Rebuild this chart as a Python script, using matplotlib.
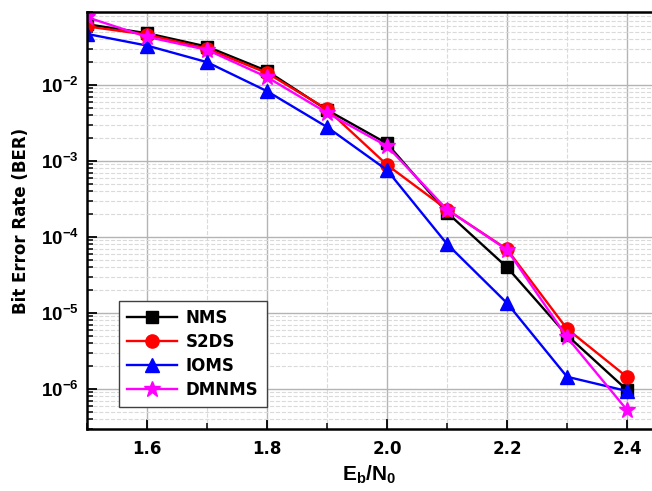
import matplotlib
matplotlib.use("Agg")
import matplotlib.pyplot as plt
from matplotlib.ticker import FuncFormatter, MultipleLocator
import numpy as np

# Eb/N0 points and BER per decoder
ebn0 = [1.5, 1.6, 1.7, 1.8, 1.9, 2.0, 2.1, 2.2, 2.3, 2.4]
ber_nms = [6.3e-2, 4.8e-2, 3.2e-2, 1.53e-2, 4.7e-3, 1.7e-3, 2.1e-4, 4.0e-5, 5.1e-6, 9.7e-7]
ber_s2ds = [5.9e-2, 4.6e-2, 3.0e-2, 1.44e-2, 4.8e-3, 8.9e-4, 2.3e-4, 6.9e-5, 6.2e-6, 1.44e-6]
ber_ioms = [4.7e-2, 3.3e-2, 2.0e-2, 8.3e-3, 2.8e-3, 7.6e-4, 8.1e-5, 1.35e-5, 1.45e-6, 9.4e-7]
ber_dmnms = [7.8e-2, 4.3e-2, 2.9e-2, 1.27e-2, 4.3e-3, 1.57e-3, 2.3e-4, 6.8e-5, 4.8e-6, 5.3e-7]

plt.rcParams['font.family'] = ['DejaVu Sans']
plt.rcParams['font.weight'] = 'bold'
plt.rcParams['mathtext.fontset'] = 'custom'
plt.rcParams['mathtext.rm'] = 'Liberation Sans:bold'
plt.rcParams['mathtext.bf'] = 'Liberation Sans:bold'
plt.rcParams['mathtext.it'] = 'Liberation Sans:bold'

fig = plt.figure(figsize=(6.52, 4.91), dpi=100)
ax = fig.add_axes([87 / 652, 1 - 429 / 491, 565 / 652, 417 / 491])

ax.plot(ebn0, ber_nms, color='black', marker='s', markersize=8.5, lw=1.7, label='NMS')
ax.plot(ebn0, ber_s2ds, color='red', marker='o', markersize=9.5, lw=1.7, label='S2DS')
ax.plot(ebn0, ber_ioms, color='blue', marker='^', markersize=9.5, lw=1.7, label='IOMS')
ax.plot(ebn0, ber_dmnms, color='magenta', marker='*', markersize=12, lw=1.7, label='DMNMS')

ax.set_yscale('log')
ax.set_xlim(1.5, 2.4417)
ax.set_ylim(10 ** (-6 - 40 / 76), 10 ** (-2 + 73 / 76))
ax.xaxis.set_major_locator(MultipleLocator(0.2))
ax.xaxis.set_minor_locator(MultipleLocator(0.1))
ax.xaxis.set_major_formatter(FuncFormatter(lambda v, p: f"{v:.1f}"))
ax.yaxis.set_major_formatter(FuncFormatter(lambda v, p: r'$\mathbf{10^{%d}}$' % round(np.log10(v))))

ax.grid(True, which='major', color='#b4b4b4', lw=1.0, ls='-')
ax.grid(True, which='minor', color='#dadada', lw=0.8, ls='--')
ax.set_axisbelow(True)

ax.tick_params(which='major', direction='in', length=7, width=1.3, pad=8)
ax.tick_params(axis='x', which='major', labelsize=12)
ax.tick_params(axis='y', which='major', labelsize=13.5, pad=6)
ax.tick_params(which='minor', direction='in', length=4, width=1.1)
for s in ['left', 'bottom', 'top']:
    ax.spines[s].set_linewidth(1.8)
ax.spines['right'].set_visible(False)

ax.set_xlabel(r'$\mathbf{E_b/N_0}$', fontsize=15, labelpad=4)
ax.set_ylabel('Bit Error Rate (BER)', fontsize=12, fontweight='bold', labelpad=8)

leg = ax.legend(loc='lower left', bbox_to_anchor=(0.0566, 0.0528), borderaxespad=0,
                fontsize=12, handlelength=3, fancybox=False, framealpha=1,
                edgecolor='#404040', borderpad=0.5, labelspacing=0.35, handletextpad=0.5)
leg.get_frame().set_linewidth(1.0)

fig.savefig("out.png", dpi=100)
